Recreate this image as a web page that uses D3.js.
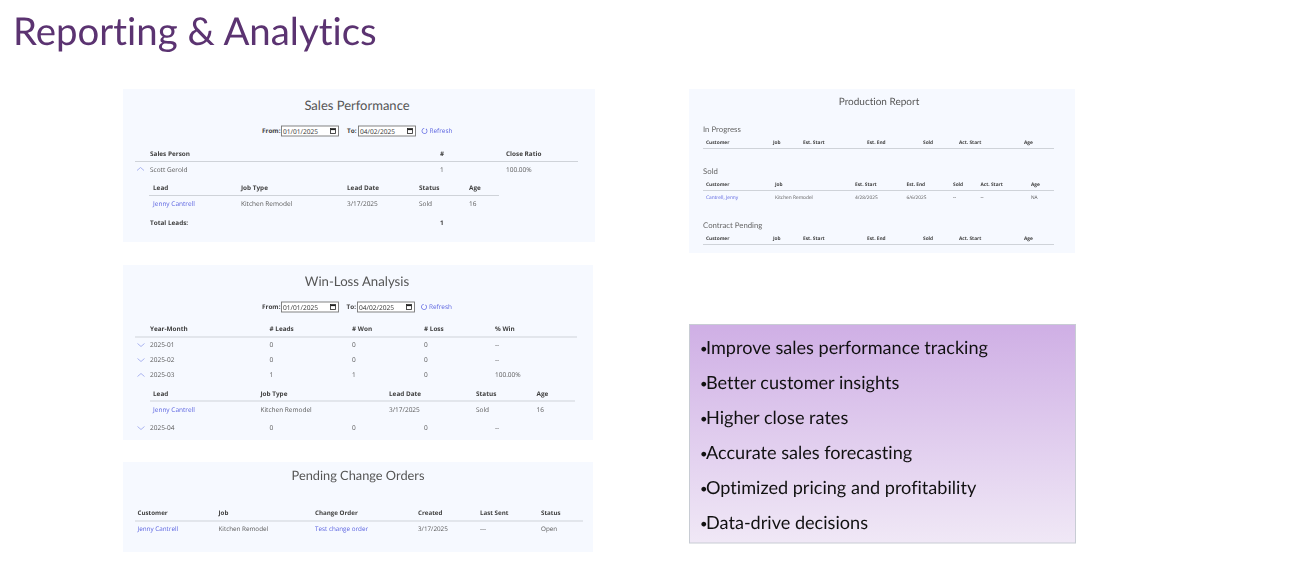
<!DOCTYPE html>
<html>
<head>
<meta charset="utf-8">
<title>Reporting & Analytics</title>
<script src="https://cdn.jsdelivr.net/npm/d3@7"></script>
<style>
html, body { margin: 0; padding: 0; background: #fff; }
svg { display: block; }
text { font-family: "Open Sans", sans-serif; font-variant-ligatures: none; text-rendering: geometricPrecision; }
</style>
</head>
<body>
<script>
var width = 1296, height = 573;

// data
var pageTitle = "Reporting & Analytics";
var dateFrom = "01/01/2025", dateTo = "04/02/2025";

var salesColumns = ["Sales Person", "#", "Close Ratio"];
var salesRow = ["Scott Gerold", "1", "100.00%"];
var salesTotal = ["Total Leads:", "1"];

var leadColumns = ["Lead", "Job Type", "Lead Date", "Status", "Age"];
var leadRow = ["Jenny Cantrell", "Kitchen Remodel", "3/17/2025", "Sold", "16"];

var winColumns = ["Year-Month", "# Leads", "# Won", "# Loss", "% Win"];
var winRows = [
  ["2025-01", "0", "0", "0", "--"],
  ["2025-02", "0", "0", "0", "--"],
  ["2025-03", "1", "1", "0", "100.00%"]
];
var winLastRow = ["2025-04", "0", "0", "0", "--"];

var changeColumns = ["Customer", "Job", "Change Order", "Created", "Last Sent", "Status"];
var changeRow = ["Jenny Cantrell", "Kitchen Remodel", "Test change order", "3/17/2025", "---", "Open"];

var prodColumns = ["Customer", "Job", "Est. Start", "Est. End", "Sold", "Act. Start", "Age"];
var prodRow = ["Cantrell, Jenny", "Kitchen Remodel", "4/28/2025", "6/6/2025", "--", "--", "NA"];

var benefits = [
  "Improve sales performance tracking",
  "Better customer insights",
  "Higher close rates",
  "Accurate sales forecasting",
  "Optimized pricing and profitability",
  "Data-drive decisions"
];

// colours
var panelFill = "#f6f9ff", textDark = "#3f3f3f", textGrey = "#5a5a5a", link = "#5a63e0", rule = "#cfd3d9";

var svg = d3.select("body").append("svg")
    .attr("width", width)
    .attr("height", height);

// the report screenshots are soft in the reference
var reports = svg.append("g").style("filter", "blur(0.3px)");

function label(x, y, str, size, opts) {
  opts = opts || {};
  return reports.append("text")
      .attr("x", x)
      .attr("y", y)
      .attr("dy", "0.38em")
      .attr("text-anchor", opts.anchor || "start")
      .style("font-size", size + "px")
      .style("font-weight", opts.weight || 400)
      .style("font-family", opts.family || null)
      .style("fill", opts.fill || textGrey)
      .text(str);
}

function panel(x, y, w, h) {
  reports.append("rect").attr("x", x).attr("y", y).attr("width", w).attr("height", h).attr("fill", panelFill);
}

function hline(x1, x2, y) {
  reports.append("line").attr("x1", x1).attr("x2", x2).attr("y1", y).attr("y2", y)
      .attr("stroke", rule).attr("stroke-width", 1);
}

// one row of a table, columns placed with an ordinal scale
function row(values, xs, y, size, opts) {
  var scale = d3.scaleOrdinal().domain(d3.range(values.length)).range(xs);
  values.forEach(function(v, i) {
    var o = Object.assign({}, opts);
    if (opts && opts.linkCols && opts.linkCols.indexOf(i) >= 0) o.fill = link;
    label(scale(i), y, v, size, o);
  });
}

function head(values, xs, y, size) {
  row(values, xs, y, size, {weight: 700, fill: textDark});
}

function chevron(x, y, up) {
  var s = up ? -1 : 1;
  var line = d3.line();
  reports.append("path")
      .attr("d", line([[x - 3.5, y - 1.5 * s], [x, y + 1.5 * s], [x + 3.5, y - 1.5 * s]]))
      .attr("fill", "none").attr("stroke", "#98a3ec").attr("stroke-width", 0.8);
}

function dateInput(x, y, value) {
  reports.append("rect").attr("x", x + 0.5).attr("y", y - 5).attr("width", 57).attr("height", 10)
      .attr("fill", "#fff").attr("stroke", "#767676").attr("stroke-width", 0.9);
  label(x + 2, y, value, 6.6, {fill: "#333"});
  reports.append("rect").attr("x", x + 49.5).attr("y", y - 2.5).attr("width", 5).attr("height", 5)
      .attr("fill", "none").attr("stroke", "#222").attr("stroke-width", 0.8);
  reports.append("line").attr("x1", x + 49.5).attr("x2", x + 54.5).attr("y1", y - 1.5).attr("y2", y - 1.5)
      .attr("stroke", "#222").attr("stroke-width", 1.2);
}

function dateBar(y, xTo, xToInput, xIcon, xRefresh) {
  label(262, y, "From:", 6.4, {weight: 700, fill: textDark});
  dateInput(281, y, dateFrom);
  label(xTo, y, "To:", 6.4, {weight: 700, fill: textDark});
  dateInput(xToInput, y, dateTo);
  var arc = d3.arc().innerRadius(2.2).outerRadius(2.9).startAngle(0.6).endAngle(Math.PI * 2 - 0.1);
  reports.append("path").attr("transform", "translate(" + xIcon + "," + y + ")").attr("d", arc()).attr("fill", link);
  label(xRefresh, y, "Refresh", 6.4, {fill: link});
}

function panelTitle(x, y, str, size) {
  label(x, y, str, size, {anchor: "middle", family: "Lato, sans-serif", fill: "#555"});
}

// page title
svg.append("text")
    .attr("x", 13)
    .attr("y", 45)
    .style("font-family", "Lato, sans-serif")
    .style("font-size", "38.4px")
    .style("fill", "#5b3371")
    .text(pageTitle);

// Sales Performance
panel(123, 89, 472, 153);
panelTitle(357, 105.5, "Sales Performance", 13);
dateBar(131, 347, 358, 424.5, 429.5);
var salesX = [150, 440, 506];
head(salesColumns, salesX, 153.5, 6.4);
hline(135, 578, 161.5);
chevron(140.5, 169, true);
row(salesRow, salesX, 169.5, 6.5);
var leadX = [153, 241, 347, 419, 469];
head(leadColumns, leadX, 188, 6.4);
hline(149, 499, 195.5);
row(leadRow, leadX, 204, 6.5, {linkCols: [0]});
head(salesTotal, [150, 440], 222.5, 6.4);

// Win-Loss Analysis
panel(123, 265, 470, 175);
panelTitle(357, 281, "Win-Loss Analysis", 13.2);
dateBar(307, 346.5, 357, 424, 429);
var winX = [150, 269.5, 352, 424, 495];
head(winColumns, winX, 328.5, 6.4);
hline(135, 577, 337);
var winY = d3.scalePoint().domain(d3.range(winRows.length)).range([345, 375]);
winRows.forEach(function(r, i) {
  chevron(141, winY(i), r[0] === "2025-03");
  row(r, winX, winY(i), 6.5);
});
var winLeadX = [153, 260.5, 389, 476, 536.5];
head(leadColumns, winLeadX, 393.5, 6.4);
hline(150, 575, 401);
row(leadRow, winLeadX, 409.5, 6.5, {linkCols: [0]});
chevron(141, 428, false);
row(winLastRow, winX, 428, 6.5);

// Pending Change Orders
panel(123, 462, 470, 90);
panelTitle(358, 475, "Pending Change Orders", 12.8);
var changeX = [137.5, 218.5, 315, 418, 480, 541];
head(changeColumns, changeX, 513, 6.2);
hline(135, 583, 521);
row(changeRow, changeX, 529, 6.3, {linkCols: [0, 2]});

// Production Report
panel(689, 89, 386, 164);
panelTitle(879, 101.5, "Production Report", 10);
var prodEmptyX = [706, 773, 803, 867, 923, 959, 1024];
var prodSoldX = [706, 775, 855, 906.5, 953, 980.5, 1031];

label(703, 129, "In Progress", 7.8, {family: "Lato, sans-serif", fill: "#666"});
head(prodColumns, prodEmptyX, 142.5, 4.8);
hline(703, 1054, 148.5);

label(703, 171, "Sold", 7.8, {family: "Lato, sans-serif", fill: "#666"});
head(prodColumns, prodSoldX, 184.5, 4.8);
hline(703, 1054, 190.5);
row(prodRow, prodSoldX, 197, 4.8, {linkCols: [0]});

label(703, 225, "Contract Pending", 7.8, {family: "Lato, sans-serif", fill: "#666"});
head(prodColumns, prodEmptyX, 238.5, 4.8);
hline(703, 1054, 244.5);

// benefits box
var grad = svg.append("defs").append("linearGradient")
    .attr("id", "boxFill")
    .attr("x1", 0).attr("x2", 0).attr("y1", 0).attr("y2", 1);
grad.append("stop").attr("offset", "0%").attr("stop-color", "#cfafe5");
grad.append("stop").attr("offset", "100%").attr("stop-color", "#f0e8f6");

svg.append("rect")
    .attr("x", 689.5).attr("y", 324.5).attr("width", 386).attr("height", 218.5)
    .attr("fill", "url(#boxFill)")
    .attr("stroke", "#c8ccd4");

var benefitY = d3.scalePoint().domain(benefits).range([348, 523]);
var benefit = svg.selectAll("text.benefit")
    .data(benefits)
  .enter().append("text")
    .attr("class", "benefit")
    .attr("y", function(d) { return benefitY(d) + 6; })
    .style("font-family", "Lato, sans-serif")
    .style("font-size", "18.1px")
    .style("fill", "#111");
benefit.append("tspan")
    .attr("x", 700)
    .attr("dy", -1.5)
    .style("font-size", "13px")
    .text("•");
benefit.append("tspan")
    .attr("x", 706)
    .attr("dy", 1.5)
    .text(function(d) { return d; });
</script>
</body>
</html>
